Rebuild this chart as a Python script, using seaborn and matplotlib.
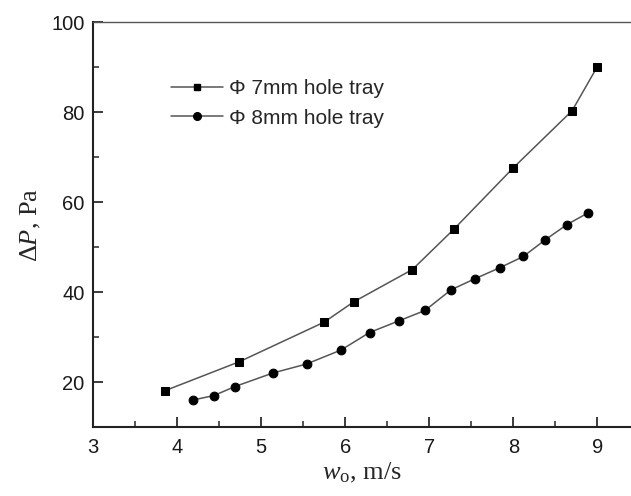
import matplotlib
matplotlib.use("Agg")
import matplotlib.pyplot as plt
import seaborn as sns
import pandas as pd
from matplotlib.ticker import MultipleLocator
from matplotlib.lines import Line2D

# Data
w7 = [3.86, 4.74, 5.75, 6.10, 6.80, 7.29, 8.00, 8.70, 9.00]
p7 = [18.1, 24.5, 33.3, 37.8, 45.0, 53.9, 67.6, 80.3, 90.1]
w8 = [4.19, 4.44, 4.69, 5.14, 5.54, 5.95, 6.29, 6.64, 6.95, 7.26, 7.55, 7.84, 8.12, 8.38, 8.64, 8.89]
p8 = [16.0, 17.0, 19.0, 22.0, 24.0, 27.1, 31.0, 33.6, 35.9, 40.5, 43.0, 45.4, 47.9, 51.6, 55.0, 57.6]
labels = ["\u03a6 7mm hole tray", "\u03a6 8mm hole tray"]
xticks = [3, 4, 5, 6, 7, 8, 9]
yticks = [20, 40, 60, 80, 100]

df = pd.concat([
    pd.DataFrame({"w": w7, "p": p7, "s": labels[0]}),
    pd.DataFrame({"w": w8, "p": p8, "s": labels[1]}),
])

sns.set_theme(style="white")
plt.rcParams["font.family"] = ["Liberation Sans", "DejaVu Sans"]
plt.rcParams["mathtext.fontset"] = "custom"
plt.rcParams["mathtext.rm"] = "Liberation Serif"
plt.rcParams["mathtext.it"] = "Liberation Serif:italic"

fig = plt.figure(figsize=(6.31, 4.96), dpi=100)
ax = fig.add_axes([93/631, 1-427/496, 1-93/631, (427-22)/496])

sns.lineplot(data=df, x="w", y="p", hue="s", style="s",
             markers={labels[0]: "s", labels[1]: "o"}, dashes=False,
             palette={labels[0]: "#555555", labels[1]: "#555555"},
             linewidth=1.1, markersize=6.3, markerfacecolor="black",
             markeredgecolor="black", ax=ax, legend=False, sort=False)

h = [Line2D([], [], color="#555555", lw=1.1, marker="s", ms=5, mfc="black", mec="black"),
     Line2D([], [], color="#555555", lw=1.1, marker="o", ms=5.5, mfc="black", mec="black")]
ax.legend(h, labels, loc="upper left", bbox_to_anchor=(0.11, 0.905), frameon=False,
          fontsize=15, handlelength=2.5, handletextpad=0.3, labelspacing=0.5)

ax.set_xlim(3, 9.4)
ax.set_ylim(10, 100)
ax.set_xticks(xticks)
ax.set_yticks(yticks)
ax.xaxis.set_minor_locator(MultipleLocator(0.5))
ax.yaxis.set_minor_locator(MultipleLocator(10))
ax.tick_params(axis="both", which="major", direction="in", length=7, width=1.2,
               labelsize=14.5, colors="#1a1a1a", bottom=True, left=True)
ax.tick_params(axis="both", which="minor", direction="in", length=4, width=1.1,
               bottom=True, left=True)
ax.tick_params(axis="x", pad=8)
ax.tick_params(axis="y", pad=6)

for s in ["left", "bottom"]:
    ax.spines[s].set_color("#222222")
    ax.spines[s].set_linewidth(1.5)
ax.spines["top"].set_color("#555555")
ax.spines["top"].set_linewidth(1.0)
ax.spines["right"].set_visible(False)

serif = {"family": ["Liberation Serif", "DejaVu Serif"], "size": 19}
ax.set_xlabel(r"$\mathit{w}_{\mathrm{o}}$, m/s", fontdict=serif, labelpad=3)
ax.set_ylabel(r"$\Delta\mathit{P}$, Pa", fontdict=serif, labelpad=6)

fig.savefig("out.png", dpi=100)
